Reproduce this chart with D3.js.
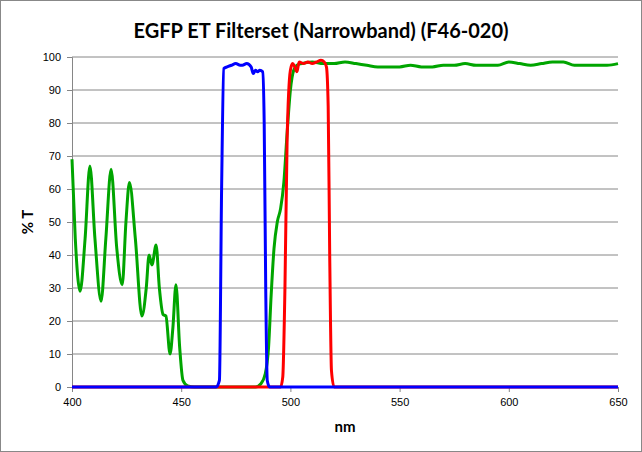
<!DOCTYPE html>
<html><head><meta charset="utf-8">
<script src="https://cdn.jsdelivr.net/npm/d3@7"></script>
<style>body{margin:0;background:#fff}svg{font-family:Lato,"Open Sans",sans-serif}</style>
</head><body>
<script>
var width = 642, height = 452;

var xTicks = [400, 450, 500, 550, 600, 650];
var yTicks = [0, 10, 20, 30, 40, 50, 60, 70, 80, 90, 100];

// excitation (blue)
var exNm = [400, 466, 467.5, 468.5, 469.5, 471, 473, 475, 477, 478, 480, 482, 483, 484, 485, 486, 487.3, 488, 488.7, 489.4, 490.5, 650];
var exT  = [0, 0, 2, 60, 96.5, 97, 97.5, 98, 97.5, 97.5, 98, 97, 95, 96, 95.5, 96, 95.5, 80, 30, 2, 0, 0];

// emission (red)
var emNm = [400, 495.5, 496.5, 497.5, 498.5, 500, 501, 502, 503, 504, 506, 508, 510, 512, 514, 515.5, 516.5, 517.3, 518, 518.8, 520, 650];
var emT  = [0, 0, 3, 30, 75, 96, 98, 97, 95.5, 98.5, 98, 98.5, 98, 98.5, 99, 98.5, 97, 85, 40, 5, 0, 0];

// dichroic (green)
var diNm = [400, 401.5, 403.7, 406, 408.2, 410.5, 413.3, 415.5, 417.9, 420.5, 423, 424.7, 426.3, 429, 432, 434, 435.3, 436.6, 438.5, 440, 441.7, 443, 444.9, 446.2, 447.6, 449.3, 450.8, 453, 456, 470, 484, 486.5, 488.5, 490, 491.2, 492.5, 494, 495.5, 497, 498.5, 500, 501.5, 503, 505, 510, 515, 520, 525, 530, 535, 540, 545, 550, 555, 560, 565, 570, 575, 580, 585, 590, 595, 600, 605, 610, 615, 620, 625, 630, 635, 640, 645, 650];
var diT  = [69, 45, 29, 45, 67, 45, 26, 45, 66, 42, 31, 50, 62, 45, 21.5, 30, 40, 37, 43, 30, 22, 21.5, 10, 18, 31, 12, 2, 0.3, 0, 0, 0, 1, 4, 12, 28, 42, 50, 54, 62, 77, 90, 96, 97.5, 98, 98.5, 98, 98, 98.5, 98, 97.5, 97, 97, 97, 97.5, 97, 97, 97.5, 97.5, 98, 97.5, 97.5, 97.5, 98.5, 98, 97.5, 98, 98.5, 98.5, 97.5, 97.5, 97.5, 97.5, 98];

var margin = {left: 72, right: 24, top: 57, bottom: 65};

var svg = d3.select("body").append("svg")
    .attr("width", width)
    .attr("height", height);

svg.append("rect")
    .attr("x", 0.5).attr("y", 0.5)
    .attr("width", width - 1).attr("height", height - 1)
    .attr("fill", "#fff").attr("stroke", "#888");

var x = d3.scaleLinear().domain([400, 650]).range([margin.left, width - margin.right]);
var y = d3.scaleLinear().domain([0, 100]).range([height - margin.bottom, margin.top]);

svg.append("g").selectAll("line")
    .data(yTicks)
  .enter().append("line")
    .attr("x1", x(400)).attr("x2", x(650))
    .attr("y1", function(d) { return y(d); })
    .attr("y2", function(d) { return y(d); })
    .attr("stroke", "#868686");

var xAxis = svg.append("g")
    .attr("transform", "translate(0," + y(0) + ")")
    .call(d3.axisBottom(x).tickValues(xTicks).tickSize(5).tickPadding(6));
var yAxis = svg.append("g")
    .attr("transform", "translate(" + x(400) + ",0)")
    .call(d3.axisLeft(y).tickValues(yTicks).tickSize(5).tickPadding(6));
[xAxis, yAxis].forEach(function(a) {
  a.selectAll("path,line").attr("stroke", "#868686");
  a.selectAll("text").attr("font-size", 11).attr("fill", "#000");
});

var line = d3.line()
    .x(function(d) { return x(d[0]); })
    .y(function(d) { return y(d[1]); })
    .curve(d3.curveMonotoneX);

function draw(nm, t, color) {
  svg.append("path")
      .datum(d3.zip(nm, t))
      .attr("d", line)
      .attr("fill", "none")
      .attr("stroke", color)
      .attr("stroke-width", 3)
      .attr("stroke-linejoin", "round");
}
draw(diNm, diT, "#00a500");
draw(emNm, emT, "#ff0000");
draw(exNm, exT, "#0000ff");

svg.append("text")
    .attr("x", width / 2).attr("y", 38)
    .attr("text-anchor", "middle")
    .attr("font-size", 20).attr("font-weight", "bold")
    .text("EGFP ET Filterset (Narrowband) (F46-020)");

svg.append("text")
    .attr("x", (x(400) + x(650)) / 2).attr("y", 432)
    .attr("text-anchor", "middle")
    .attr("font-size", 15).attr("font-weight", "bold")
    .text("nm");

svg.append("text")
    .attr("transform", "translate(33," + y(50) + ") rotate(-90)")
    .attr("text-anchor", "middle")
    .attr("font-size", 15).attr("font-weight", "bold")
    .text("% T");
</script>
</body></html>
